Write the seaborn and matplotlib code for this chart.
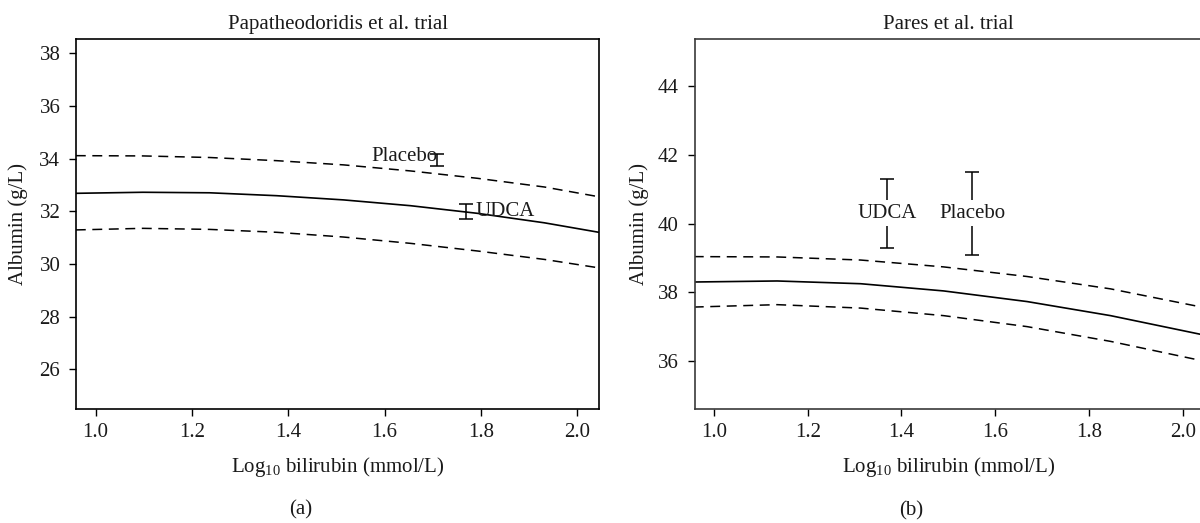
import numpy as np
import pandas as pd
import matplotlib
matplotlib.use("Agg")
import matplotlib.pyplot as plt
import seaborn as sns

# ---------------- data ----------------
# Panel (a): Papatheodoridis et al. trial
a_x = [0.959, 1.098, 1.237, 1.376, 1.515, 1.654, 1.793, 1.932, 2.045]
a_fit = [32.69, 32.73, 32.71, 32.60, 32.44, 32.22, 31.93, 31.57, 31.21]
a_upper = [34.12, 34.11, 34.05, 33.93, 33.77, 33.54, 33.26, 32.93, 32.56]
a_lower = [31.30, 31.36, 31.32, 31.21, 31.03, 30.79, 30.50, 30.18, 29.86]
a_groups = ["Placebo", "UDCA"]
a_pt_x = [1.708, 1.769]
a_pt_y = [33.97, 31.99]
a_pt_lo = [33.73, 31.71]
a_pt_hi = [34.20, 32.27]

# Panel (b): Pares et al. trial
b_x = [0.957, 1.135, 1.313, 1.490, 1.668, 1.846, 2.040]
b_fit = [38.30, 38.33, 38.25, 38.04, 37.73, 37.32, 36.77]
b_upper = [39.04, 39.03, 38.94, 38.74, 38.46, 38.10, 37.57]
b_lower = [37.57, 37.64, 37.54, 37.32, 37.00, 36.57, 36.01]
b_groups = ["UDCA", "Placebo"]
b_pt_x = [1.370, 1.551]
b_pt_y = [40.30, 40.30]
b_pt_lo = [39.29, 39.09]
b_pt_hi = [41.30, 41.50]

x_ticks = [1.0, 1.2, 1.4, 1.6, 1.8, 2.0]
a_yticks = [26, 28, 30, 32, 34, 36, 38]
b_yticks = [36, 38, 40, 42, 44]

titles = ["Papatheodoridis et al. trial", "Pares et al. trial"]
panel_tags = ["(a)", "(b)"]
xlabel = "Log$_{10}$ bilirubin (mmol/L)"
ylabel = "Albumin (g/L)"

# ---------------- style ----------------
sns.set_theme(style="white")
FS = 15
plt.rcParams["font.family"] = ["Liberation Serif", "DejaVu Serif"]
plt.rcParams["mathtext.fontset"] = "custom"
plt.rcParams["mathtext.rm"] = "Liberation Serif"
plt.rcParams["mathtext.it"] = "Liberation Serif:italic"
plt.rcParams["mathtext.bf"] = "Liberation Serif:bold"
plt.rcParams["font.size"] = FS

W, H = 1200, 523
fig = plt.figure(figsize=(12, 5.23), dpi=100)

def frac(l, t, r, b):
    return [l / W, 1 - b / H, (r - l) / W, (b - t) / H]

ax_a = fig.add_axes(frac(76.3, 39, 599.3, 409))
ax_b = fig.add_axes(frac(694.7, 39, 1202, 409))

DASH = (6.5, 4.3)

def draw_panel(ax, xs, fit, up, lo, xlim, ylim, yticks, title, spine_col):
    df = pd.DataFrame({"x": xs, "fit": fit, "upper": up, "lower": lo})
    sns.lineplot(data=df, x="x", y="fit", ax=ax, color="black", lw=1.2)
    sns.lineplot(data=df, x="x", y="upper", ax=ax, color="black", lw=1.1,
                 linestyle="--")
    sns.lineplot(data=df, x="x", y="lower", ax=ax, color="black", lw=1.1,
                 linestyle="--")
    for ln in ax.lines[1:]:
        ln.set_dashes(DASH)
    ax.set_xlim(*xlim)
    ax.set_ylim(*ylim)
    ax.set_xticks(x_ticks)
    ax.set_xticklabels([f"{v:.1f}" for v in x_ticks])
    ax.set_yticks(yticks)
    ax.set_yticklabels([str(v) for v in yticks])
    ax.tick_params(axis="both", direction="out", length=5, width=1,
                   color="black", labelsize=FS, labelcolor="#1a1a1a",
                   bottom=True, left=True)
    ax.tick_params(axis="x", pad=5)
    ax.tick_params(axis="y", pad=6.5)
    for s in ax.spines.values():
        s.set_visible(True)
        s.set_color(spine_col)
        s.set_linewidth(1.2)
    ax.set_title(title, fontsize=FS, pad=7, color="#1a1a1a")
    ax.set_xlabel(xlabel, fontsize=FS, color="#1a1a1a")
    ax.xaxis.label.set_va("center")
    ax.set_ylabel(ylabel, fontsize=FS, color="#1a1a1a")
    ax.yaxis.label.set_va("center")

draw_panel(ax_a, a_x, a_fit, a_upper, a_lower, (0.96, 2.046), (24.5, 38.55),
           a_yticks, titles[0], "black")
draw_panel(ax_b, b_x, b_fit, b_upper, b_lower, (0.959, 2.041), (34.6, 45.38),
           b_yticks, titles[1], "#3a3a3a")

ax_a.xaxis.set_label_coords(0.5, -0.157)
ax_b.xaxis.set_label_coords(0.5, -0.157)
ax_a.yaxis.set_label_coords(-0.112, 0.5)
ax_b.yaxis.set_label_coords(-0.110, 0.5)

CAP = 4.7
# panel (a) points with error bars
for g, x, y, l, h in zip(a_groups, a_pt_x, a_pt_y, a_pt_lo, a_pt_hi):
    ax_a.errorbar([x], [y], yerr=[[y - l], [h - y]], fmt="none", ecolor="black",
                  elinewidth=1.1, capsize=CAP, capthick=1.1)
ax_a.annotate(a_groups[0], (a_pt_x[0], a_pt_y[0]), xytext=(1, 2),
              textcoords="offset points", ha="right", va="center",
              fontsize=FS, color="#1a1a1a")
ax_a.annotate(a_groups[1], (a_pt_x[1], a_pt_y[1]), xytext=(7, 0),
              textcoords="offset points", ha="left", va="center",
              fontsize=FS, color="#1a1a1a")

# panel (b) points with error bars, label sits on the bar
for g, x, y, l, h in zip(b_groups, b_pt_x, b_pt_y, b_pt_lo, b_pt_hi):
    ax_b.errorbar([x], [y], yerr=[[y - l], [h - y]], fmt="none", ecolor="black",
                  elinewidth=1.1, capsize=CAP, capthick=1.1, zorder=2)
    ax_b.text(x, y, g, ha="center", va="center", fontsize=FS, color="#1a1a1a",
              zorder=3, bbox=dict(facecolor="white", edgecolor="none", pad=2.5))

fig.text(301 / W, 1 - 510 / H, panel_tags[0], ha="center", va="center",
         fontsize=FS, color="#1a1a1a")
fig.text(911 / W, 1 - 511 / H, panel_tags[1], ha="center", va="center",
         fontsize=FS, color="#1a1a1a")

fig.savefig("out.png", dpi=100, facecolor="white")
